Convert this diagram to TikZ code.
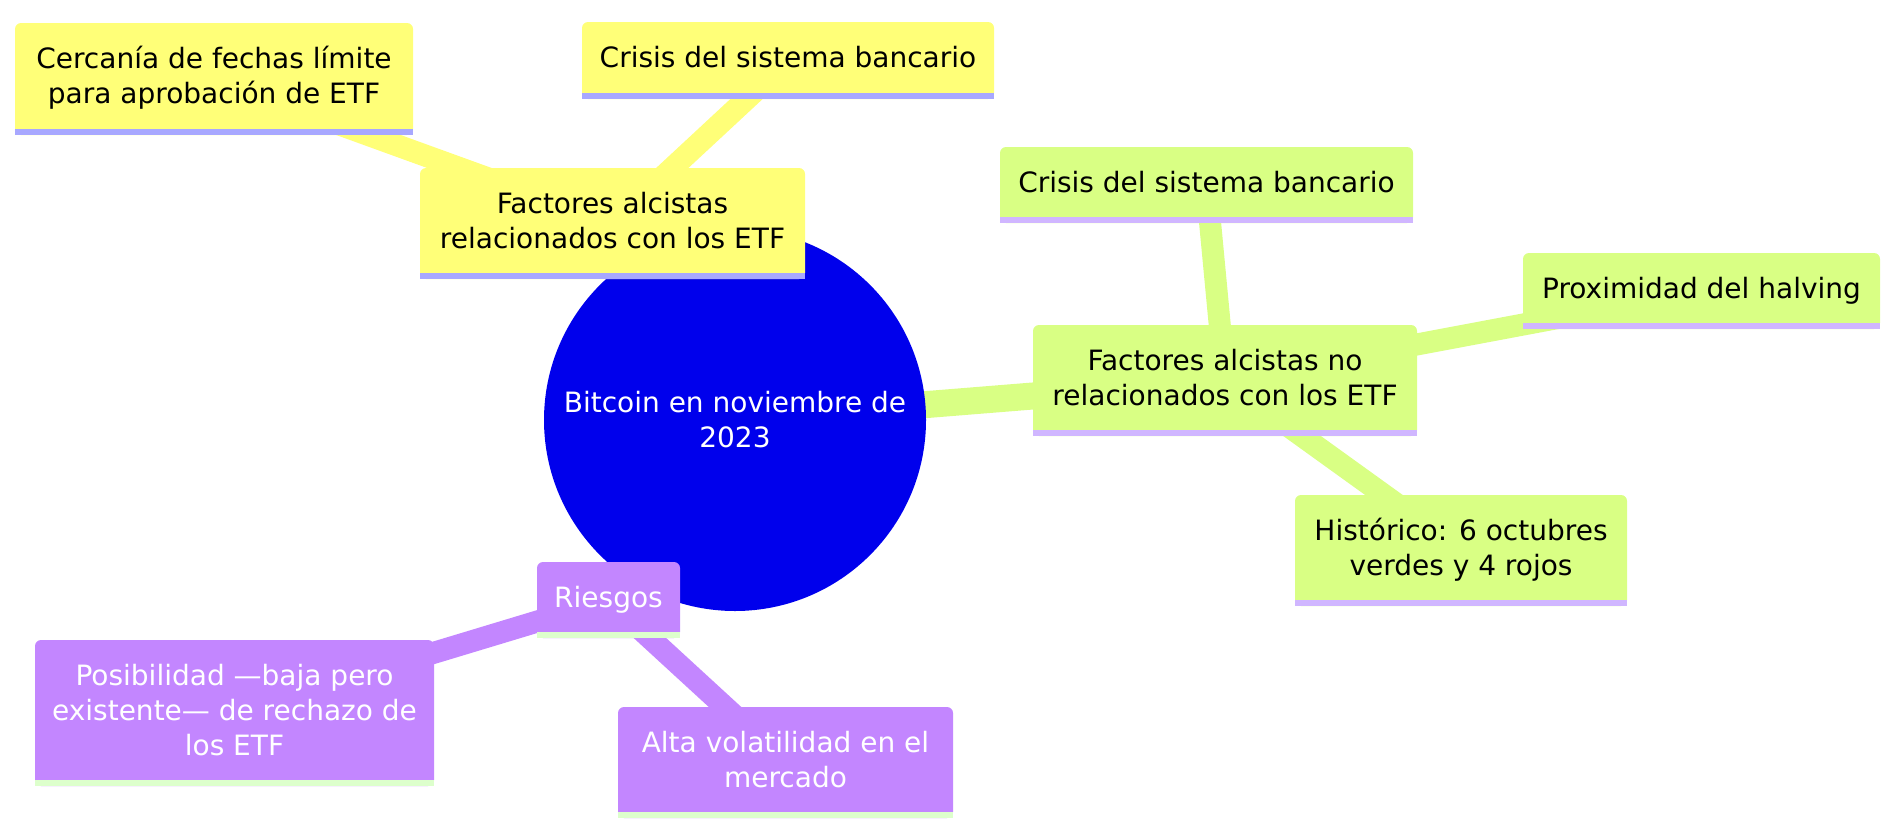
\documentclass[tikz,border=0pt]{standalone}
\usepackage{fontspec}
\setmainfont{DejaVu Sans}
\usetikzlibrary{backgrounds,calc}
\definecolor{ycol}{HTML}{FFFF78}
\definecolor{gcol}{HTML}{D9FF84}
\definecolor{pcol}{HTML}{C386FF}
\definecolor{rootcol}{HTML}{0000EC}
\definecolor{yband}{HTML}{A8A8FF}
\definecolor{gband}{HTML}{D0B6FF}
\definecolor{pband}{HTML}{DDFFCC}
\newcommand\mmband[2]{\fill[#2] (#1.south west) rectangle ($(#1.south east)+(0,-6)$);}
\newcommand\mmtext[1]{\raisebox{-3pt}{\begin{tabular}{@{}c@{}}#1\end{tabular}}}
\tikzset{
  mmbox/.style={rectangle, rounded corners=6pt, inner sep=0pt,
    font=\fontsize{28}{35}\selectfont},
  ybox/.style={mmbox, fill=ycol, text=black},
  gbox/.style={mmbox, fill=gcol, text=black},
  pbox/.style={mmbox, fill=pcol, text=white},
  rootnode/.style={circle, fill=rootcol, inner sep=0pt, minimum size=382pt,
    align=center, text=white, font=\fontsize{28}{35}\selectfont},
  rootedge/.style={line width=27pt},
  subedge/.style={line width=22pt}
}
\begin{document}
\begin{tikzpicture}[x=1pt,y=-1pt]
\useasboundingbox (0,0) rectangle (1886,830);
% root
\node[rootnode] (root) at (735,420) {Bitcoin en noviembre de\\2023};
% yellow section
\node[ybox, minimum width=398pt, minimum height=112pt] (c1) at (214,79)
  {\mmtext{Cercanía de fechas límite\\para aprobación de ETF}};
\mmband{c1}{yband}
\node[ybox, minimum width=412pt, minimum height=77pt] (c2) at (788,60.5)
  {\mmtext{Crisis del sistema bancario}};
\mmband{c2}{yband}
\node[ybox, minimum width=385pt, minimum height=111pt] (f1) at (612.5,223.5)
  {\mmtext{Factores alcistas\\relacionados con los ETF}};
\mmband{f1}{yband}
% green section
\node[gbox, minimum width=413pt, minimum height=76pt] (g1) at (1206.5,185)
  {\mmtext{Crisis del sistema bancario}};
\mmband{g1}{gband}
\node[gbox, minimum width=357pt, minimum height=76pt] (g2) at (1701.5,291)
  {\mmtext{Proximidad del halving}};
\mmband{g2}{gband}
\node[gbox, minimum width=384pt, minimum height=111pt] (f2) at (1225,380.5)
  {\mmtext{Factores alcistas no\\relacionados con los ETF}};
\mmband{f2}{gband}
\node[gbox, minimum width=332pt, minimum height=111pt] (g3) at (1461,550.5)
  {\mmtext{Histórico: 6 octubres\\verdes y 4 rojos}};
\mmband{g3}{gband}
% purple section
\node[pbox, minimum width=143pt, minimum height=76pt] (r) at (608.5,600)
  {\mmtext{Riesgos}};
\mmband{r}{pband}
\node[pbox, minimum width=399pt, minimum height=146pt] (r1) at (234.5,713)
  {\mmtext{Posibilidad —baja pero\\existente— de rechazo de\\los ETF}};
\mmband{r1}{pband}
\node[pbox, minimum width=335pt, minimum height=111pt] (r2) at (785.5,762.5)
  {\mmtext{Alta volatilidad en el\\mercado}};
\mmband{r2}{pband}
% connectors
\begin{scope}[on background layer]
  \draw[ycol, rootedge] (root.center) -- (f1.center);
  \draw[gcol, rootedge] (root.center) -- (f2.center);
  \draw[pcol, rootedge] (root.center) -- (r.center);
  \draw[ycol, subedge] (f1.center) -- (c1.center);
  \draw[ycol, subedge] (f1.center) -- (c2.center);
  \draw[gcol, subedge] (f2.center) -- (g1.center);
  \draw[gcol, subedge] (f2.center) -- (g2.center);
  \draw[gcol, subedge] (f2.center) -- (g3.center);
  \draw[pcol, subedge] (r.center) -- (r1.center);
  \draw[pcol, subedge] (r.center) -- (r2.center);
\end{scope}
\end{tikzpicture}
\end{document}
